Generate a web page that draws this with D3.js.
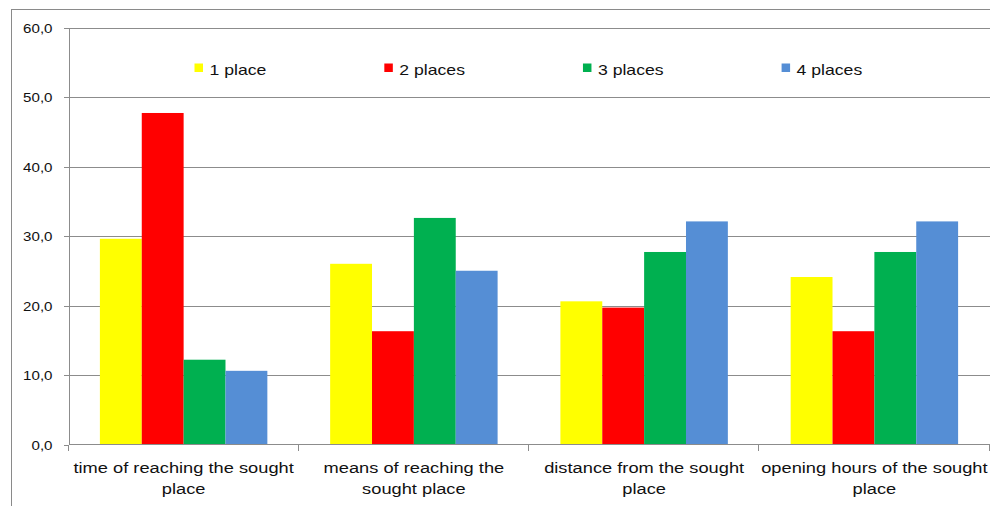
<!DOCTYPE html>
<html>
<head>
<meta charset="utf-8">
<script src="https://cdn.jsdelivr.net/npm/d3@7"></script>
<style>
  html, body { margin: 0; padding: 0; background: #fff; }
  svg { display: block; font-family: "Liberation Sans", Arial, sans-serif; }
</style>
</head>
<body>
<svg id="chart" width="990" height="506"></svg>
<script>
// Survey shares (%) for each factor, by the rank it was given
const categories = [
  "time of reaching the sought\nplace",
  "means of reaching the\nsought place",
  "distance from the sought\nplace",
  "opening hours of the sought\nplace"
];
const seriesNames = ["1 place", "2 places", "3 places", "4 places"];
const place1 = [29.6, 26.0, 20.6, 24.1];
const place2 = [47.7, 16.3, 19.7, 16.3];
const place3 = [12.2, 32.6, 27.7, 27.7];
const place4 = [10.6, 25.0, 32.1, 32.1];
const yTicks = [0, 10, 20, 30, 40, 50, 60];

const seriesValues = [place1, place2, place3, place4];
const colors = ["#FFFF00", "#FF0000", "#00B050", "#558ED5"];
const gridColor = "#8c8c8c";
const textColor = "#111";
const sx = 1.26; // horizontal text stretch

const svg = d3.select("#chart");

// frame (runs past the right and bottom edges)
svg.append("rect")
  .attr("x", 11.5).attr("y", 9.5)
  .attr("width", 1000).attr("height", 510)
  .attr("fill", "none").attr("stroke", "#8a8a8a");

const plot = { left: 68.5, right: 989.5, top: 27.5, bottom: 444.5 };

const y = d3.scaleLinear().domain([0, 60]).range([plot.bottom, plot.top]);
const x0 = d3.scaleBand().domain(categories).range([plot.left, plot.right]).padding(0);
const x1 = d3.scaleBand().domain(seriesNames).range([0, x0.bandwidth()])
  .paddingInner(0).paddingOuter(0.75);

// gridlines
svg.append("g").selectAll("line")
  .data(yTicks.filter(d => d > 0))
  .join("line")
  .attr("x1", plot.left).attr("x2", 990)
  .attr("y1", d => Math.round(y(d)) + 0.5).attr("y2", d => Math.round(y(d)) + 0.5)
  .attr("stroke", gridColor).attr("stroke-width", 1)
  .attr("shape-rendering", "crispEdges");

// bars
const rows = categories.map((c, i) => ({
  cat: c,
  vals: seriesNames.map((s, j) => ({ s, j, v: seriesValues[j][i] }))
}));
svg.append("g").selectAll("g")
  .data(rows)
  .join("g")
  .attr("transform", d => `translate(${x0(d.cat)},0)`)
  .selectAll("rect")
  .data(d => d.vals)
  .join("rect")
  .attr("x", d => x1(d.s))
  .attr("width", x1.bandwidth())
  .attr("y", d => y(d.v))
  .attr("height", d => y(0) - y(d.v))
  .attr("fill", d => colors[d.j]);

// value axis
const yAxis = d3.axisLeft(y)
  .tickValues(yTicks)
  .tickSize(5)
  .tickSizeOuter(0)
  .tickFormat(d => d.toFixed(1).replace(".", ","));
const ya = svg.append("g")
  .attr("transform", `translate(${plot.left},0)`)
  .call(yAxis);
ya.select(".domain").attr("stroke", gridColor).attr("shape-rendering", "crispEdges");
ya.selectAll(".tick line").attr("stroke", gridColor).attr("shape-rendering", "crispEdges");
ya.selectAll(".tick text")
  .attr("x", null).attr("dy", null)
  .attr("transform", "translate(-16,4.6) scale(" + sx + ",1)")
  .attr("font-size", 12)
  .attr("fill", textColor);

// category axis: baseline, boundary ticks, wrapped labels
const xa = svg.append("g");
xa.append("line")
  .attr("x1", plot.left).attr("x2", plot.right)
  .attr("y1", plot.bottom).attr("y2", plot.bottom)
  .attr("stroke", gridColor).attr("shape-rendering", "crispEdges");
const bounds = categories.map(c => x0(c)).concat([x0(categories[categories.length - 1]) + x0.bandwidth()]);
xa.selectAll("line.tk")
  .data(bounds)
  .join("line")
  .attr("class", "tk")
  .attr("x1", d => Math.round(d) - 0.5).attr("x2", d => Math.round(d) - 0.5)
  .attr("y1", plot.bottom).attr("y2", plot.bottom + 6)
  .attr("stroke", gridColor).attr("shape-rendering", "crispEdges");

categories.forEach(c => {
  const cx = x0(c) + x0.bandwidth() / 2;
  c.split("\n").forEach((line, k) => {
    xa.append("text")
      .attr("transform", `translate(${cx},${473 + k * 20.5}) scale(${sx},1)`)
      .attr("text-anchor", "middle")
      .attr("font-size", 14.5)
      .attr("fill", textColor)
      .text(line);
  });
});

// legend
const legend = svg.append("g");
let lx = 194.5;
seriesNames.forEach((name, j) => {
  legend.append("rect")
    .attr("x", lx).attr("y", 63.5)
    .attr("width", 8.5).attr("height", 8.5)
    .attr("fill", colors[j]);
  const t = legend.append("text")
    .attr("transform", `translate(${lx + 15},75) scale(${sx},1)`)
    .attr("font-size", 14)
    .attr("fill", textColor)
    .text(name);
  lx += 15 + t.node().getComputedTextLength() * sx + 118;
});
</script>
</body>
</html>
